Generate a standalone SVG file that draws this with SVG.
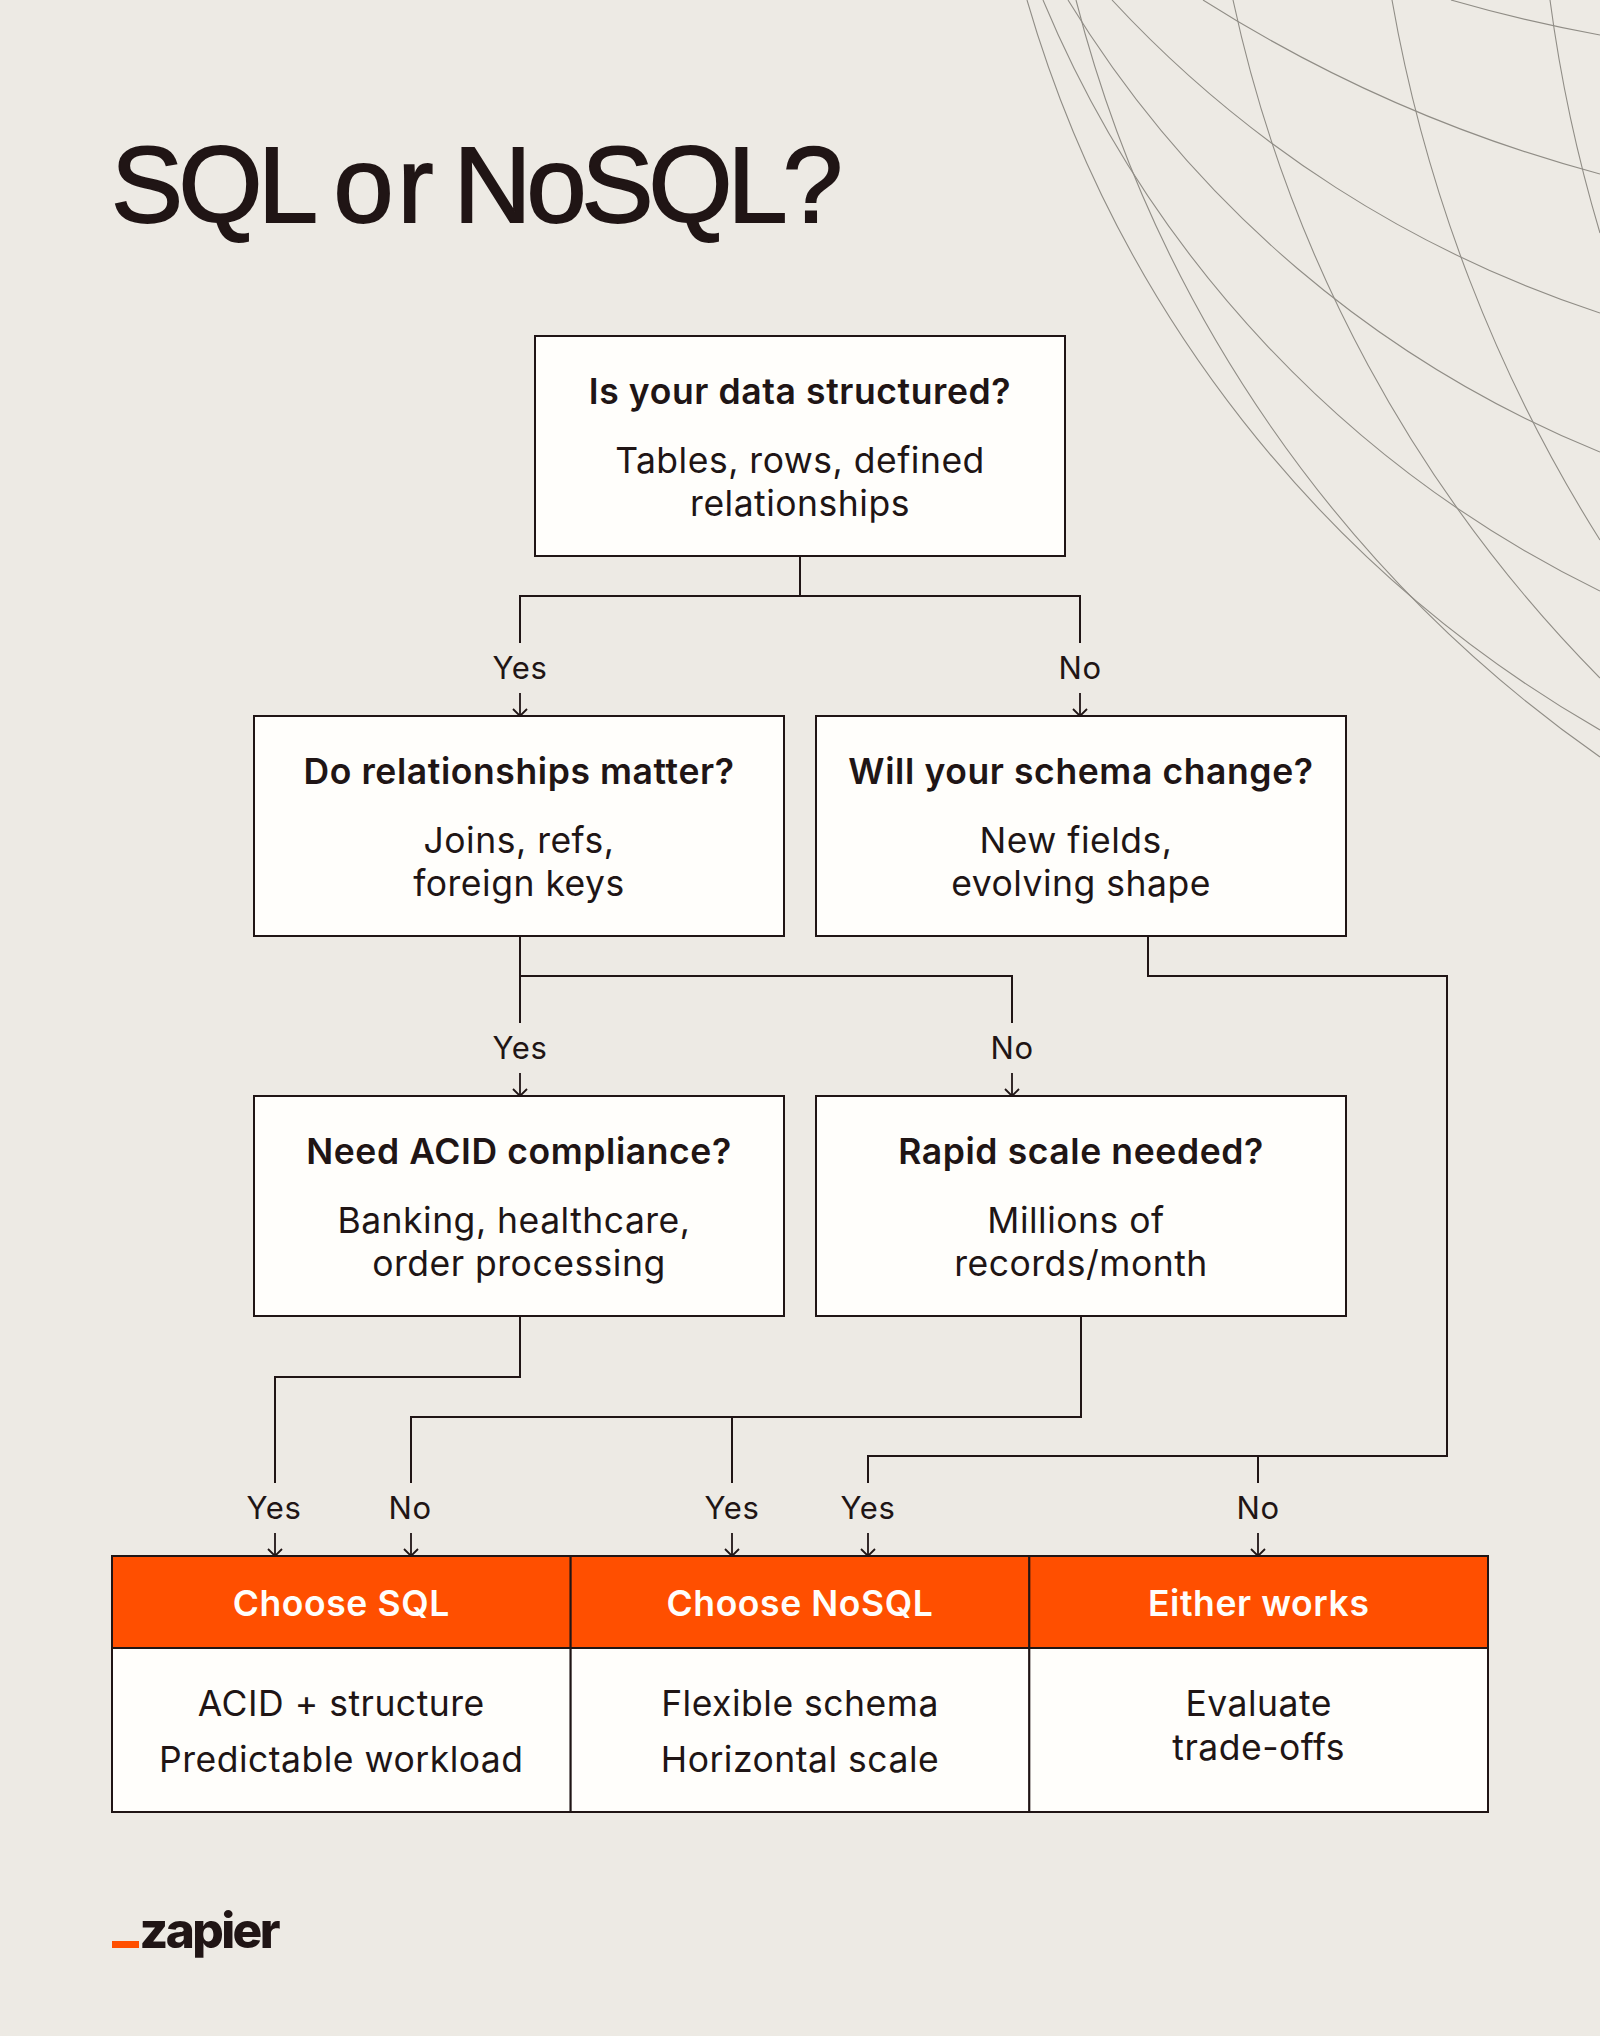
<svg xmlns="http://www.w3.org/2000/svg" width="1600" height="2036" viewBox="0 0 1600 2036">
<style>
text{font-family:Inter,"Liberation Sans",sans-serif;fill:#201515;text-anchor:middle}
.q{font-size:35.5px;font-weight:600;letter-spacing:.6px}
.b{font-size:35.5px;font-weight:400;letter-spacing:.5px}
.l{font-size:31px;font-weight:400;letter-spacing:.6px}
.h{font-size:35.5px;font-weight:600;fill:#fffefb;letter-spacing:.6px}
.box{fill:#fffefb;stroke:#201515;stroke-width:2}
.hd{fill:#ff4f00;stroke:#201515;stroke-width:2}
.c{fill:none;stroke:#201515;stroke-width:2}
.a{fill:none;stroke:#201515;stroke-width:1.8;marker-end:url(#arrow)}
.arc{fill:none;stroke:#908d86;stroke-width:1.1}
</style>
<defs>
<marker id="arrow" markerUnits="userSpaceOnUse" markerWidth="16" markerHeight="16" refX="8" refY="8" viewBox="0 0 16 16" orient="auto"><path d="M1 1L8 8L1 15" fill="none" stroke="#201515" stroke-width="1.8"/></marker>
</defs>
<rect width="1600" height="2036" fill="#edeae4"/>
<g id="arcs">
<path class="arc" d="M1027 0A1241 1241 0 0 0 1600 730"/>
<path class="arc" d="M1076 0A1325 1325 0 0 0 1600 757"/>
<path class="arc" d="M1043 0A1151 1151 0 0 0 1600 591"/>
<path class="arc" d="M1068 0A1115 1115 0 0 0 1600 452"/>
<path class="arc" d="M1112 0A1155 1155 0 0 0 1600 313"/>
<path class="arc" d="M1203 0A1432 1432 0 0 0 1600 174"/>
<path class="arc" d="M1451 0A1500 1500 0 0 0 1600 35"/>
<path class="arc" d="M1233 0A1378 1378 0 0 0 1600 678"/>
<path class="arc" d="M1392 0A1496 1496 0 0 0 1600 540"/>
<path class="arc" d="M1550 0A1500 1500 0 0 0 1600 233"/>
</g>
<text id="title" x="111" y="222" style="text-anchor:start;font-family:'Liberation Sans',Arial,sans-serif;font-size:108px;letter-spacing:-4.5px;stroke:#201515;stroke-width:1.8">SQL <tspan x="333.5" style="letter-spacing:4px">or</tspan> <tspan x="453.5" style="letter-spacing:-5px">NoSQL?</tspan></text>
<g id="connectors">
<path class="c" d="M800 556V596M520 643V596H1080V643"/>
<path class="a" d="M520 693V716"/>
<path class="a" d="M1080 693V716"/>
<path class="c" d="M520 936V1023M520 976H1012V1023"/>
<path class="a" d="M520 1073V1096"/>
<path class="a" d="M1012 1073V1096"/>
<path class="c" d="M1148 936V976H1447V1456H868V1483M1258 1456V1483"/>
<path class="a" d="M868 1533V1556"/>
<path class="a" d="M1258 1533V1556"/>
<path class="c" d="M520 1316V1377H275V1483"/>
<path class="a" d="M275 1533V1556"/>
<path class="c" d="M1081 1316V1417H411V1483M732 1417V1483"/>
<path class="a" d="M411 1533V1556"/>
<path class="a" d="M732 1533V1556"/>
</g>
<g id="labels">
<text class="l" x="520" y="678.5">Yes</text>
<text class="l" x="1080" y="678.5">No</text>
<text class="l" x="520" y="1058.5">Yes</text>
<text class="l" x="1012" y="1058.5">No</text>
<text class="l" x="274" y="1518.5">Yes</text>
<text class="l" x="410" y="1518.5">No</text>
<text class="l" x="732" y="1518.5">Yes</text>
<text class="l" x="868" y="1518.5">Yes</text>
<text class="l" x="1258" y="1518.5">No</text>
</g>
<g id="n1"><rect class="box" x="535" y="336" width="530" height="220"/><text class="q" x="800" y="404">Is your data structured?</text><text class="b" x="800" y="473">Tables, rows, defined</text><text class="b" x="800" y="516">relationships</text></g>
<g id="n2"><rect class="box" x="254" y="716" width="530" height="220"/><text class="q" x="519" y="784">Do relationships matter?</text><text class="b" x="519" y="853">Joins, refs,</text><text class="b" x="519" y="896">foreign keys</text></g>
<g id="n3"><rect class="box" x="816" y="716" width="530" height="220"/><text class="q" x="1081" y="784">Will your schema change?</text><text class="b" x="1076" y="853">New fields,</text><text class="b" x="1081" y="896">evolving shape</text></g>
<g id="n4"><rect class="box" x="254" y="1096" width="530" height="220"/><text class="q" x="519" y="1164">Need ACID compliance?</text><text class="b" x="514" y="1233">Banking, healthcare,</text><text class="b" x="519" y="1276">order processing</text></g>
<g id="n5"><rect class="box" x="816" y="1096" width="530" height="220"/><text class="q" x="1081" y="1164">Rapid scale needed?</text><text class="b" x="1076" y="1233">Millions of</text><text class="b" x="1081" y="1276">records/month</text></g>
<g id="r1"><rect class="box" x="112" y="1648" width="458.67" height="164"/><rect class="hd" x="112" y="1556" width="458.67" height="92"/><text class="h" x="341.3" y="1616">Choose SQL</text><text class="b" x="341.3" y="1716">ACID + structure</text><text class="b" x="341.3" y="1772">Predictable workload</text></g>
<g id="r2"><rect class="box" x="570.67" y="1648" width="458.67" height="164"/><rect class="hd" x="570.67" y="1556" width="458.67" height="92"/><text class="h" x="800" y="1616">Choose NoSQL</text><text class="b" x="800" y="1716">Flexible schema</text><text class="b" x="800" y="1772">Horizontal scale</text></g>
<g id="r3"><rect class="box" x="1029.33" y="1648" width="458.67" height="164"/><rect class="hd" x="1029.33" y="1556" width="458.67" height="92"/><text class="h" x="1258.7" y="1616">Either works</text><text class="b" x="1258.7" y="1716">Evaluate</text><text class="b" x="1258.7" y="1760">trade-offs</text></g>
<g id="logo"><rect x="112" y="1941" width="27" height="7" fill="#ff4f00"/><text x="139.5" y="1948" style="text-anchor:start;font-size:49.5px;font-weight:800;letter-spacing:-2.6px">zapier</text></g>
</svg>
